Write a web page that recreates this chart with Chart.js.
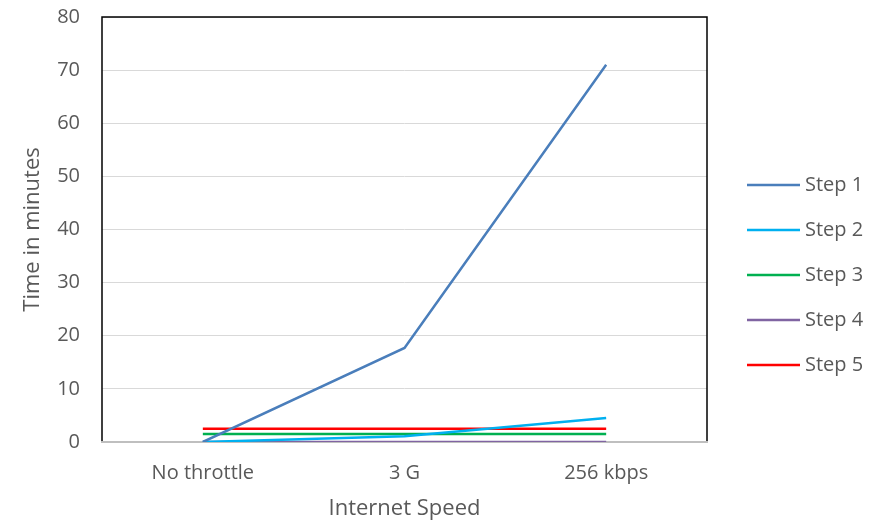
<!DOCTYPE html>
<html>
<head>
<meta charset="utf-8">
<script src="https://cdn.jsdelivr.net/npm/chart.js@4/dist/chart.umd.min.js"></script>
<style>
  html, body { margin: 0; padding: 0; background: #fff; }
  #wrap { width: 881px; height: 522px; }
</style>
</head>
<body>
<div id="wrap"><canvas id="c" width="881" height="522"></canvas></div>
<script>
const categories = ['No throttle', '3 G', '256 kbps'];
const seriesNames = ['Step 1', 'Step 2', 'Step 3', 'Step 4', 'Step 5'];
const step1 = [0, 17.7, 71];
const step2 = [0, 1.1, 4.5];
const step3 = [1.5, 1.5, 1.5];
const step4 = [0, 0, 0];
const step5 = [2.5, 2.5, 2.5];
const seriesColors = ['#4a7ebb', '#00b0f0', '#00b050', '#8064a2', '#ff0000'];

const FONT = "'Open Sans', 'Liberation Sans', sans-serif";
const TEXT = '#595959';

// Frame around the plot area: black box, grey baseline at zero
const framePlugin = {
  id: 'frame',
  beforeDatasetsDraw(chart) {
    const { ctx, chartArea: a } = chart;
    ctx.save();
    ctx.strokeStyle = '#000';
    ctx.lineWidth = 1.5;
    ctx.strokeRect(a.left, a.top, a.right - a.left, a.bottom - a.top);
    ctx.strokeStyle = '#bfbfbf';
    ctx.lineWidth = 2;
    ctx.beginPath();
    ctx.moveTo(a.left - 1, a.bottom);
    ctx.lineTo(a.right + 1, a.bottom);
    ctx.stroke();
    ctx.restore();
  }
};

// Vertical legend with long line swatches on the right
const sideLegend = {
  id: 'sideLegend',
  afterDraw(chart) {
    const { ctx, chartArea: a } = chart;
    const ds = chart.data.datasets;
    const gap = 45;
    const cy = chart.height / 2 + 14;
    const x0 = a.right + 40, x1 = x0 + 53;
    ctx.save();
    ctx.font = '20px ' + FONT;
    ctx.textBaseline = 'middle';
    ds.forEach((d, i) => {
      const y = cy + (i - (ds.length - 1) / 2) * gap;
      ctx.strokeStyle = d.borderColor;
      ctx.lineWidth = 2.5;
      ctx.beginPath();
      ctx.moveTo(x0, y);
      ctx.lineTo(x1, y);
      ctx.stroke();
      ctx.fillStyle = TEXT;
      ctx.fillText(d.label, x1 + 5, y);
    });
    ctx.restore();
  }
};

const seriesData = [step1, step2, step3, step4, step5];

new Chart(document.getElementById('c'), {
  type: 'line',
  data: {
    labels: categories,
    datasets: seriesNames.map((name, i) => ({
      label: name,
      data: seriesData[i],
      borderColor: seriesColors[i],
      backgroundColor: seriesColors[i],
      borderWidth: 2.5,
      pointRadius: 0,
      tension: 0,
      fill: false
    }))
  },
  options: {
    responsive: false,
    animation: false,
    layout: { padding: { top: 17, right: 174, left: 20, bottom: 0 } },
    plugins: { legend: { display: false }, tooltip: { enabled: false } },
    scales: {
      x: {
        offset: true,
        grid: { display: false, drawTicks: false },
        border: { display: false },
        ticks: { color: TEXT, font: { family: FONT, size: 20 }, padding: 19 },
        title: { display: true, text: 'Internet Speed', color: TEXT, font: { family: FONT, size: 22 }, padding: { top: 8, bottom: 0 } },
        afterFit(s) { s.height = 80; s.paddingLeft = 0; s.paddingRight = 0; }
      },
      y: {
        min: 0, max: 80,
        grid: { color: '#d9d9d9', lineWidth: 1, drawTicks: false },
        border: { display: false },
        ticks: { stepSize: 10, color: TEXT, font: { family: FONT, size: 20 }, padding: 22 },
        title: { display: true, text: 'Time in minutes', color: TEXT, font: { family: FONT, size: 22 }, padding: { top: 0, bottom: 0 } },
        afterFit(s) { s.width = 82; s.paddingTop = 0; s.paddingBottom = 0; }
      }
    }
  },
  plugins: [framePlugin, sideLegend]
});
</script>
</body>
</html>
